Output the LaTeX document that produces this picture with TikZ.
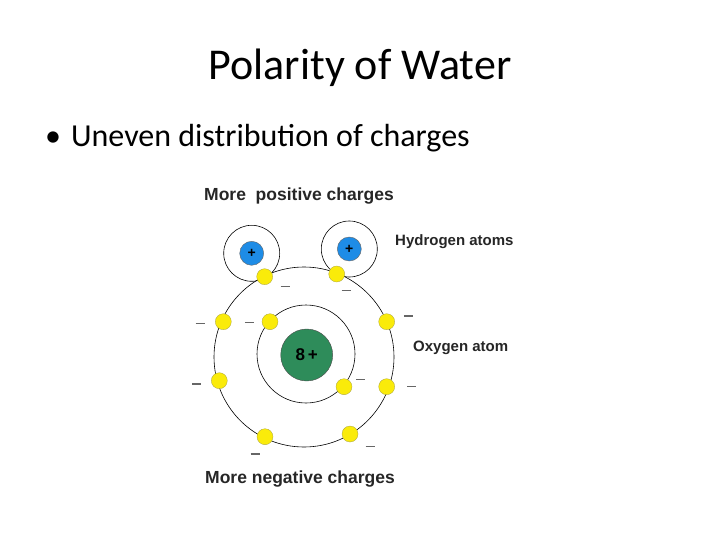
\documentclass[tikz,border=0pt]{standalone}
\usepackage{fontspec}
\setmainfont{Carlito}
\newfontfamily\arial{Liberation Sans}
\definecolor{nucg}{RGB}{46,140,90}
\definecolor{hblue}{RGB}{30,140,230}
\definecolor{ely}{RGB}{250,235,10}
\begin{document}
\begin{tikzpicture}[x=1pt,y=-1pt,
  orb/.style={draw=black,line width=0.6pt},
  el/.style={circle,fill=ely,draw=yellow!60!black,line width=0.3pt,minimum size=16pt,inner sep=0pt},
  hyd/.style={circle,fill=hblue,draw=black!60,minimum size=24pt,inner sep=0pt,font=\arial\bfseries\fontsize{14}{14}\selectfont},
  lbl/.style={font=\arial\bfseries\fontsize{17.5}{18}\selectfont,text=black!85,anchor=west,inner sep=0pt},
  lbs/.style={font=\arial\bfseries\fontsize{15}{16}\selectfont,text=black!85,anchor=west,inner sep=0pt},
  mn/.style={draw=black!60,line width=1.2pt}]
\useasboundingbox (0,0) rectangle (720,540);
\node[font=\fontsize{44}{46}\selectfont] (title) at (360,68) {Polarity of Water};
\node[font=\fontsize{32}{34}\selectfont,anchor=west,inner sep=0pt] (bul) at (45,138) {\textbullet\hspace{10pt}Uneven distribution of charges};
\draw[orb] (304,357) circle (90);
\draw[orb] (306,354) circle (49);
\draw[orb] (251.7,253.3) circle (28);
\draw[orb] (349.3,249) circle (28);
\node[circle,fill=nucg,draw=black!70,minimum size=52pt,inner sep=0pt,font=\arial\bfseries\fontsize{17}{17}\selectfont] (nuc) at (306.7,355) {8\,+};
\node[hyd] (h1) at (251.7,253.3) {+};
\node[hyd] (h2) at (349.3,249) {+};
\foreach \p [count=\i] in {(264.7,276.7),(336.7,274),(223.3,321.7),(270,321.7),(386.7,321.7),(219.3,380.7),(344,386.7),(386.7,386.7),(265,436.7),(350,434)}
  \node[el] (e\i) at \p {};
\foreach \p in {(285,286.7),(346,290.7),(200,323.3),(249.3,322.7),(408.3,316),(196.7,384),(360.7,379.3),(411.7,386.7),(255,454),(370,446.7)}
  \draw[mn] \p ++(-4.5,0) -- ++(9,0);
\node[lbl] (l1) at (204,196) {More\ \ positive charges};
\node[lbs] (l2) at (395,242) {Hydrogen atoms};
\node[lbs] (l3) at (413,348) {Oxygen atom};
\node[lbl] (l4) at (205,479) {More negative charges};
\end{tikzpicture}
\end{document}
